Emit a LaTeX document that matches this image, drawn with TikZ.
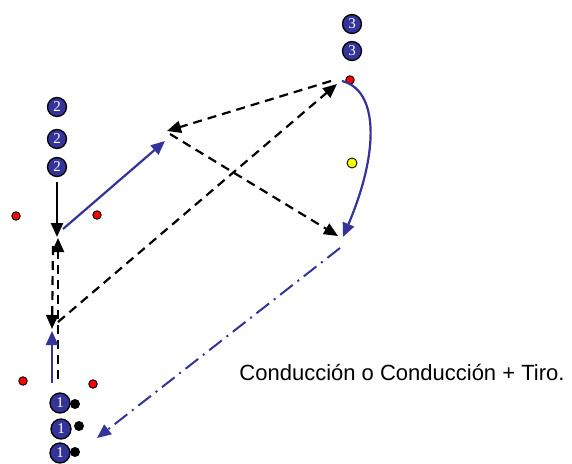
\documentclass[tikz,border=0pt]{standalone}
\usepackage{fontspec}
\setmainfont{Liberation Sans}
\newfontfamily\numfont{Liberation Serif}
\usetikzlibrary{arrows.meta}
\definecolor{pblue}{RGB}{51,51,153}
\definecolor{pred}{RGB}{255,0,0}
\definecolor{pyellow}{RGB}{255,255,0}
\begin{document}
\begin{tikzpicture}[x=1pt,y=-1pt,
  numc/.style={circle,draw=black,line width=1.3pt,fill=pblue,text=white,inner sep=0pt,minimum size=19pt,font=\numfont\fontsize{15}{15}\selectfont},
  reddot/.style={circle,draw=black,line width=0.9pt,fill=pred,inner sep=0pt,minimum size=8.5pt},
  yeldot/.style={circle,draw=black,line width=0.9pt,fill=pyellow,inner sep=0pt,minimum size=10pt},
  blkdot/.style={circle,fill=black,inner sep=0pt,minimum size=10pt},
  tip/.style={-{Triangle[length=14pt,width=12pt]}},
  blkline/.style={tip,line width=2.6pt,black},
  dashline/.style={tip,line width=2.2pt,black,dash pattern=on 9pt off 6pt},
  blueline/.style={tip,line width=2.2pt,pblue},
  dashdot/.style={tip,line width=2pt,pblue,dash pattern=on 16pt off 6pt on 2pt off 6pt}]
\useasboundingbox (0,0) rectangle (572,463);
% numbered players
\node[numc] (c2a) at (57,107) {2};
\node[numc] (c2b) at (57,139) {2};
\node[numc] (c2c) at (57,167) {2};
\node[numc] (c3a) at (352,24) {3};
\node[numc] (c3b) at (352,51) {3};
\node[blkdot] (b1) at (75,404) {};
\node[blkdot] (b2) at (79,426) {};
\node[blkdot] (b3) at (75,452) {};
\node[numc,minimum size=20pt] (c1a) at (60,403) {1};
\node[numc,minimum size=20pt] (c1b) at (61,429) {1};
\node[numc,minimum size=20pt] (c1c) at (60,453) {1};
% dots
\node[reddot] (r1) at (16,216) {};
\node[reddot] (r2) at (97,215) {};
\node[reddot] (r3) at (23,381) {};
\node[reddot] (r4) at (93,384) {};
\node[reddot] (r5) at (350,80) {};
\node[yeldot] (y1) at (352,163) {};
% coordinates
\coordinate (a1s) at (57,182);
\coordinate (a1e) at (57,237);
\coordinate (b2s) at (63,229);
\coordinate (b2e) at (165,141);
\coordinate (d1s) at (58,379);
\coordinate (d1e) at (58,238);
\coordinate (d2s) at (53,246);
\coordinate (d2e) at (52,329);
\coordinate (d3s) at (58,322);
\coordinate (d3e) at (337,84);
\coordinate (d4s) at (331,81);
\coordinate (d4e) at (167,131);
\coordinate (d5s) at (170,134);
\coordinate (d5e) at (338,236);
\coordinate (cvs) at (342,81);
\coordinate (cve) at (343,237);
\coordinate (bus) at (52,383);
\coordinate (bue) at (52,331);
\coordinate (dds) at (340,248);
\coordinate (dde) at (97,438);
% connectors
\draw[blkline] (a1s) -- (a1e);
\draw[blueline] (b2s) -- (b2e);
\draw[dashline] (d1s) -- (d1e);
\draw[dashline] (d2s) -- (d2e);
\draw[dashline] (d3s) -- (d3e);
\draw[dashline] (d4s) -- (d4e);
\draw[dashline] (d5s) -- (d5e);
\draw[blueline] (cvs) .. controls (378,90) and (380,150) .. (cve);
\draw[blueline] (bus) -- (bue);
\draw[dashdot] (dds) -- (dde);
% label
\node[font=\fontsize{22}{24}\selectfont,inner sep=0pt,anchor=base] (lbl) at (402,380) {Conducción o Conducción + Tiro.};
\end{tikzpicture}
\end{document}
